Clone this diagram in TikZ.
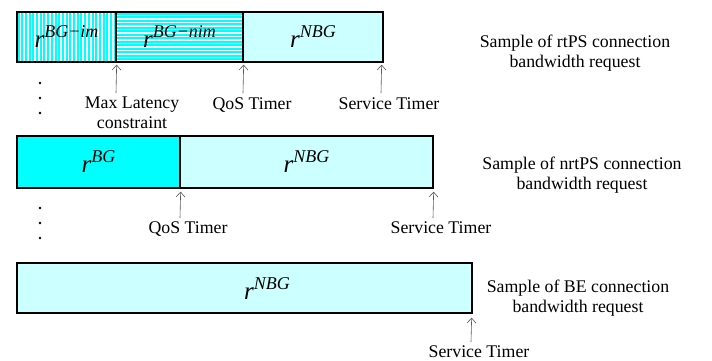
\documentclass[tikz,border=0pt]{standalone}
\usepackage{fontspec}
\setmainfont{Liberation Serif}
\usetikzlibrary{arrows.meta}
\definecolor{lcyan}{RGB}{204,255,255}
\definecolor{bcyan}{RGB}{0,255,255}
\newcommand{\rlab}[1]{{\fontsize{25}{28}\selectfont\itshape r}\raisebox{10pt}{\fontsize{18}{20}\selectfont\itshape #1}}
\begin{document}
\begin{tikzpicture}[x=1pt,y=-1pt,
  cell/.style={draw=black, line width=1.3pt, inner sep=0pt, minimum height=50pt},
  plain/.style={cell, fill=lcyan},
  vstripes/.style={cell, fill=white, path picture={
      \foreach \i in {0,...,30}
        \draw[bcyan, line width=2pt] ([xshift=\i*3.7pt+1.5pt]path picture bounding box.north west) -- ++(0pt,-60pt);}},
  hstripes/.style={cell, fill=white, path picture={
      \foreach \i in {0,...,16}
        \draw[bcyan, line width=2pt] ([yshift=-\i*3.5pt-1.5pt]path picture bounding box.north west) -- ++(150pt,0pt);}},
  ptr/.style={-{Straight Barb[length=5pt,width=9pt]}, draw=black!65, line width=0.6pt},
  lbl/.style={font=\fontsize{17.8}{20}\selectfont, align=center, inner sep=0pt, anchor=base},
  dot/.style={circle, fill=black, inner sep=0pt, minimum size=2.6pt}]
\useasboundingbox (0,0) rectangle (712,360);

% ---- rtPS
\node[vstripes, minimum width=99pt] (c1a) at (66.5,37) {\rlab{BG−im}};
\node[hstripes, minimum width=127pt] (c1b) at (179.5,37) {\rlab{BG−nim}};
\node[plain, minimum width=140pt] (c1c) at (313,37) {\rlab{NBG}};
\coordinate (a1) at (116,93);
\coordinate (a2) at (243,93);
\coordinate (a3) at (381,93);
\draw[ptr] (a1) -- ([yshift=-2pt]c1a.south east);
\draw[ptr] (a2) -- ([yshift=-2pt]c1b.south east);
\draw[ptr] (a3) -- ([xshift=-2pt,yshift=-2pt]c1c.south east);
\node[lbl] (ml) at (132,128) {Max Latency\\constraint};
\node[lbl] (q1) at (252,109) {QoS Timer};
\node[lbl] (s1) at (389,109) {Service Timer};
\node[lbl] (rt) at (575,67) {Sample of rtPS connection\\bandwidth request};

\node[dot] (d1) at (40,83) {};
\node[dot] (d2) at (40,98) {};
\node[dot] (d3) at (40,113) {};

% ---- nrtPS
\node[cell, fill=bcyan, minimum width=163pt, minimum height=52pt] (c2a) at (98.5,162) {\rlab{BG}};
\node[plain, minimum width=253pt, minimum height=52pt] (c2b) at (306.5,162) {\rlab{NBG}};
\coordinate (b1) at (180,218);
\coordinate (b2) at (433,218);
\draw[ptr] (b1) -- ([yshift=-3pt]c2a.south east);
\draw[ptr] (b2) -- ([yshift=-3pt]c2b.south east);
\node[lbl] (q2) at (188,233) {QoS Timer};
\node[lbl] (s2) at (441,233) {Service Timer};
\node[lbl] (nrt) at (582,189) {Sample of nrtPS connection\\bandwidth request};

\node[dot] (d4) at (40,208) {};
\node[dot] (d5) at (40,223) {};
\node[dot] (d6) at (40,238) {};

% ---- BE
\node[plain, minimum width=455pt] (c3) at (244.5,288) {};
\node[inner sep=0pt] (c3l) at (267,289) {\rlab{NBG}};
\coordinate (e1) at (471,342);
\draw[ptr] (e1) -- ([xshift=-1pt,yshift=-4pt]c3.south east);
\node[lbl] (s3) at (479,357) {Service Timer};
\node[lbl] (be) at (578,312) {Sample of BE connection\\bandwidth request};
\end{tikzpicture}
\end{document}
